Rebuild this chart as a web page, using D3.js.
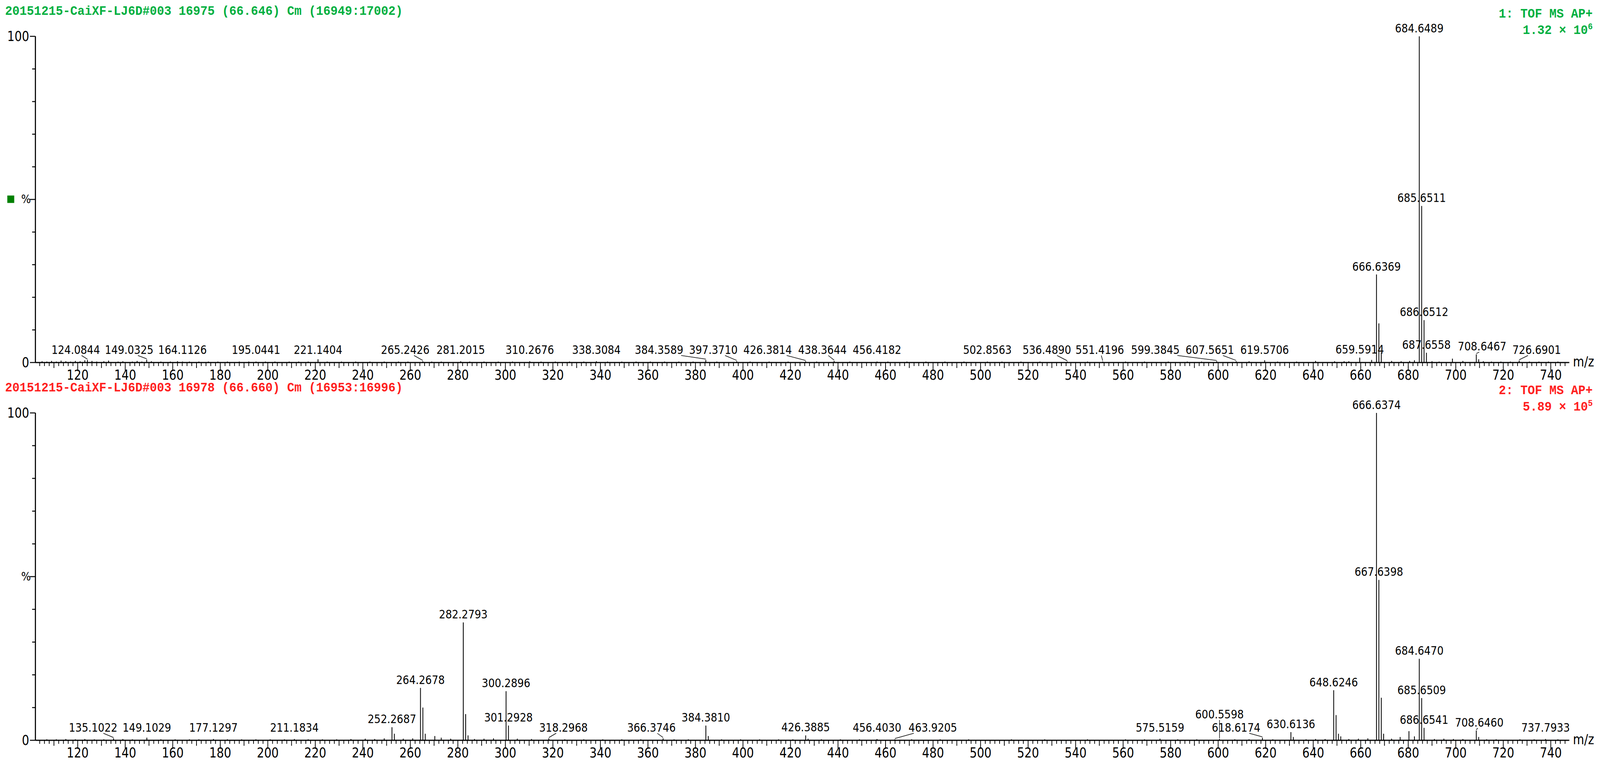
<!DOCTYPE html>
<html><head><meta charset="utf-8">
<script src="https://cdn.jsdelivr.net/npm/d3@7"></script>
<style>
html,body{margin:0;padding:0;background:#fff;overflow:hidden;width:100vw;height:100vh}
svg{display:block}
.lbl{font-family:"Liberation Sans Narrow","DejaVu Sans Condensed",sans-serif;font-size:31px;fill:#000}
.tk{font-family:"Liberation Sans Narrow","DejaVu Sans Condensed",sans-serif;font-size:35px;fill:#000}
.ttl{font-family:"Liberation Mono","DejaVu Sans Mono",monospace;font-size:33px;font-weight:bold}
</style></head><body>
<svg id="c" viewBox="0 0 4382 1948" width="100%" height="100%" preserveAspectRatio="none"></svg>
<script>
// spectrum 1 (green): [m/z, % intensity]
const peaks1 = [
  [666.6369,27],[667.640,12],[668.643,3],[684.6489,100],[685.6511,48],[686.6512,13],
  [687.6558,3],[708.6467,2.5],[709.650,1],[726.6901,0.6],[659.5914,1.5],[698.6,1.2],
  [124.0844,0.8],[149.0325,0.9],[164.1126,0.3],[195.0441,0.3],[221.1404,1.0],[265.2426,0.4],
  [281.2015,0.4],[310.2676,0.4],[338.3084,0.4],[384.3589,0.8],[397.3710,0.4],[426.3814,0.4],
  [438.3644,0.5],[456.4182,0.3],[502.8563,0.3],[536.4890,0.3],[551.4196,0.3],[599.3845,0.4],
  [607.5651,0.4],[619.5706,0.7],[664.6,0.8],[680.6,0.5],[682.6,0.7],[711.6,0.4]
];
const noise1 = [105,107,109,111,113,115,117,119,121,123,126,128,131,133,137,139,143,145,147,151,155,
  159,162,167,171,175,179,183,188,192,199,203,209,213,217,225,231,237,243,249,255,259,269,
  273,285,291,297,303,315,321,327,333,343,349,355,361,367,373,379,389,403,411,419,431,445,
  461,469,477,485,493,509,517,525,545,561,569,579,587,593,613,625,633,641,649,653,655,673,
  677,690,693,703,715,719,723,731,735,739,743];
const noise1Int = [0.4,0.3,0.5,0.3,0.6,0.4,0.3,0.5,0.4,0.7,0.5,0.3,0.4,0.6,0.3,0.4,0.3,0.5,0.3,0.4,0.3,
  0.3,0.4,0.3,0.3,0.3,0.3,0.3,0.3,0.3,0.3,0.3,0.3,0.3,0.3,0.3,0.3,0.3,0.3,0.3,0.3,0.3,0.3,
  0.3,0.3,0.3,0.3,0.3,0.3,0.3,0.3,0.3,0.3,0.3,0.3,0.3,0.3,0.3,0.3,0.3,0.3,0.3,0.3,0.3,0.3,
  0.3,0.3,0.3,0.3,0.3,0.3,0.3,0.3,0.3,0.3,0.3,0.3,0.3,0.3,0.4,0.3,0.3,0.5,0.4,0.4,0.4,0.5,
  0.4,0.4,0.3,0.5,0.3,0.3,0.3,0.3,0.3,0.3,0.3];
const labels1 = [684.6489,685.6511,666.6369,686.6512,687.6558,708.6467,726.6901,659.5914,619.5706,
  607.5651,599.3845,551.4196,536.4890,502.8563,456.4182,438.3644,426.3814,397.3710,384.3589,
  338.3084,310.2676,281.2015,265.2426,221.1404,195.0441,164.1126,149.0325,124.0844];

// spectrum 2 (red)
const peaks2 = [
  [666.6374,100],[667.6398,49],[668.641,13],[669.64,2],[648.6246,15.3],[649.628,7.7],[650.63,2],
  [651.6,1.2],[684.6470,24.9],[685.6509,12.9],[686.6541,3.8],[708.6460,3],[709.65,1],
  [737.7933,0.4],[630.6136,2.5],[631.62,1],[618.6174,0.8],[600.5598,0.4],[575.5159,0.5],
  [463.9205,0.3],[456.4030,0.4],[426.3885,1.5],[427.39,0.5],[384.3810,4.5],[385.384,1.3],
  [366.3746,0.6],[318.2968,0.6],[301.2928,4.5],[300.2896,15],[282.2793,36],[283.282,8],
  [284.285,1.5],[264.2678,16],[265.271,10],[266.274,2],[270.3,1.3],[252.2687,4],[253.272,2],
  [211.1834,0.4],[177.1297,0.4],[149.1029,0.8],[135.1022,0.6],[680.3,2.8],[682.6,1.2],[676.6,1]
];
const noise2 = [107,111,115,119,123,127,131,139,143,155,161,167,171,183,189,195,201,207,217,223,229,
  235,241,245,249,257,261,273,277,287,291,295,305,311,325,333,341,349,357,371,377,391,399,
  407,415,421,433,441,449,471,483,495,513,527,545,561,569,583,591,607,613,623,637,641,645,
  655,659,663,673,691,695,699,703,713,717,727,733,743];
const noise2Int = [0.3,0.3,0.4,0.3,0.4,0.3,0.3,0.4,0.3,0.3,0.3,0.3,0.3,0.3,0.3,0.3,0.3,0.3,0.3,0.3,0.3,
  0.4,0.5,0.4,0.6,0.5,0.6,0.8,0.5,0.4,0.5,0.6,0.5,0.4,0.3,0.3,0.3,0.3,0.3,0.3,0.3,0.3,0.3,
  0.3,0.3,0.3,0.3,0.3,0.3,0.3,0.3,0.3,0.3,0.3,0.3,0.3,0.3,0.3,0.3,0.3,0.3,0.3,0.3,0.4,0.4,
  0.4,0.5,0.6,0.5,0.4,0.5,0.4,0.4,0.3,0.3,0.3,0.3,0.3];
const labels2 = [666.6374,667.6398,282.2793,684.6470,264.2678,648.6246,685.6509,300.2896,
  384.3810,301.2928,252.2687,686.6541,708.6460,630.6136,426.3885,618.6174,366.3746,318.2968,
  575.5159,149.1029,135.1022,737.7933,600.5598,456.4030,463.9205,211.1834,177.1297];

const panels = [
  {title:"20151215-CaiXF-LJ6D#003 16975 (66.646) Cm (16949:17002)", color:"#00b040",
   func:"1: TOF MS AP+", mant:"1.32", exp:"6", peaks:peaks1, noise:noise1, noiseInt:noise1Int,
   labels:labels1, top:93, base:928, marker:true},
  {title:"20151215-CaiXF-LJ6D#003 16978 (66.660) Cm (16953:16996)", color:"#ff2020",
   func:"2: TOF MS AP+", mant:"5.89", exp:"5", peaks:peaks2, noise:noise2, noiseInt:noise2Int,
   labels:labels2, top:1057, base:1895, marker:false}
];

const svg = d3.select("#c");
const x = d3.scaleLinear().domain([102.2, 747.8]).range([97, 4298]);

panels.forEach(p => {
  const g = svg.append("g");
  const y = d3.scaleLinear().domain([0, 100]).range([p.base, p.top]);

  g.append("text").attr("class","ttl").attr("x",14).attr("y",p.top-55).attr("fill",p.color).text(p.title);
  g.append("text").attr("class","ttl").attr("x",4362).attr("y",p.top-48).attr("text-anchor","end")
    .attr("fill",p.color).text(p.func);
  const t2 = g.append("text").attr("class","ttl").attr("x",4362).attr("y",p.top-6).attr("text-anchor","end").attr("fill",p.color);
  t2.append("tspan").text(p.mant + " \u00d7 10");
  t2.append("tspan").attr("dy",-12).attr("font-size",22).text(p.exp);

  // y axis
  g.append("line").attr("x1",97).attr("x2",97).attr("y1",p.top).attr("y2",p.base).attr("stroke","#000").attr("stroke-width",3);
  d3.range(0,101,10).forEach(v => {
    g.append("line").attr("x1", v===0||v===100||v===50 ? 82 : 88).attr("x2",97)
      .attr("y1",y(v)).attr("y2",y(v)).attr("stroke","#000").attr("stroke-width",2.5);
  });
  g.append("text").attr("class","tk").attr("x",80).attr("y",y(100)+12).attr("text-anchor","end").text("100");
  g.append("text").attr("class","tk").attr("x",80).attr("y",y(0)+12).attr("text-anchor","end").text("0");
  g.append("text").attr("class","lbl").attr("x",58).attr("y",y(50)+10).attr("font-size",30).text("%");
  if (p.marker) g.append("rect").attr("x",20).attr("y",y(50)-10).attr("width",19).attr("height",19).attr("fill","#008000");

  // x axis
  g.append("line").attr("x1",97).attr("x2",4298).attr("y1",p.base).attr("y2",p.base).attr("stroke","#000").attr("stroke-width",3);
  d3.range(104, 748, 2).forEach(v => {
    const len = v % 20 === 0 ? 22 : (v % 10 === 0 ? 14 : 9);
    g.append("line").attr("x1",x(v)).attr("x2",x(v)).attr("y1",p.base).attr("y2",p.base+len)
      .attr("stroke","#000").attr("stroke-width",2);
  });
  d3.range(120, 741, 20).forEach(v => {
    g.append("text").attr("class","tk").attr("x",x(v)).attr("y",p.base+44).attr("text-anchor","middle").text(v);
  });
  g.append("text").attr("class","tk").attr("x",4308).attr("y",p.base+10).text("m/z");

  // sticks
  const all = p.peaks.concat(p.noise.map((m,i) => [m, p.noiseInt[i]]));
  g.selectAll("line.stick").data(all).join("line").attr("class","stick")
    .attr("x1",d => x(d[0])).attr("x2",d => x(d[0]))
    .attr("y1",p.base).attr("y2",d => y(d[1]))
    .attr("stroke","#000").attr("stroke-width",2.2);

  // labels with simple collision avoidance
  const placed = [];
  const h = 30;
  const overlaps = b => placed.some(o => b.x < o.x + o.w + 12 && b.x + b.w + 12 > o.x && b.y < o.y + o.h && b.y + b.h > o.y);
  p.labels.forEach(m => {
    const pk = p.peaks.find(d => d[0] === m);
    const px = x(m), py = y(pk[1]);
    const t = g.append("text").attr("class","lbl").attr("text-anchor","middle").text(m.toFixed(4));
    const w = t.node().getComputedTextLength();
    const baseY = Math.min(py, p.base - 12) - 8;
    let best = null;
    for (let lift = 0; lift <= 136 && !best; lift += 34) {
      for (let dx = 0; dx <= 170 && !best; dx += 8) {
        for (const s of [1, -1]) {
          const b = {x: px - w/2 + s*dx, y: baseY - lift - h, w: w, h: h};
          if (!overlaps(b)) { best = b; break; }
        }
      }
    }
    if (!best) best = {x: px - w/2, y: baseY - h, w: w, h: h};
    placed.push(best);
    t.attr("x",best.x + w/2).attr("y",best.y + h - 2);
    const cx = best.x + w/2;
    if (Math.abs(cx - px) > 6 || best.y + h < baseY - 4) {
      g.append("line").attr("x1",px).attr("y1",py - 2).attr("x2",Math.max(best.x+6, Math.min(best.x+w-6, px + (cx-px)*0.5)))
        .attr("y2",best.y + h + 2).attr("stroke","#000").attr("stroke-width",1.5);
    }
  });
});
</script>
</body></html>
